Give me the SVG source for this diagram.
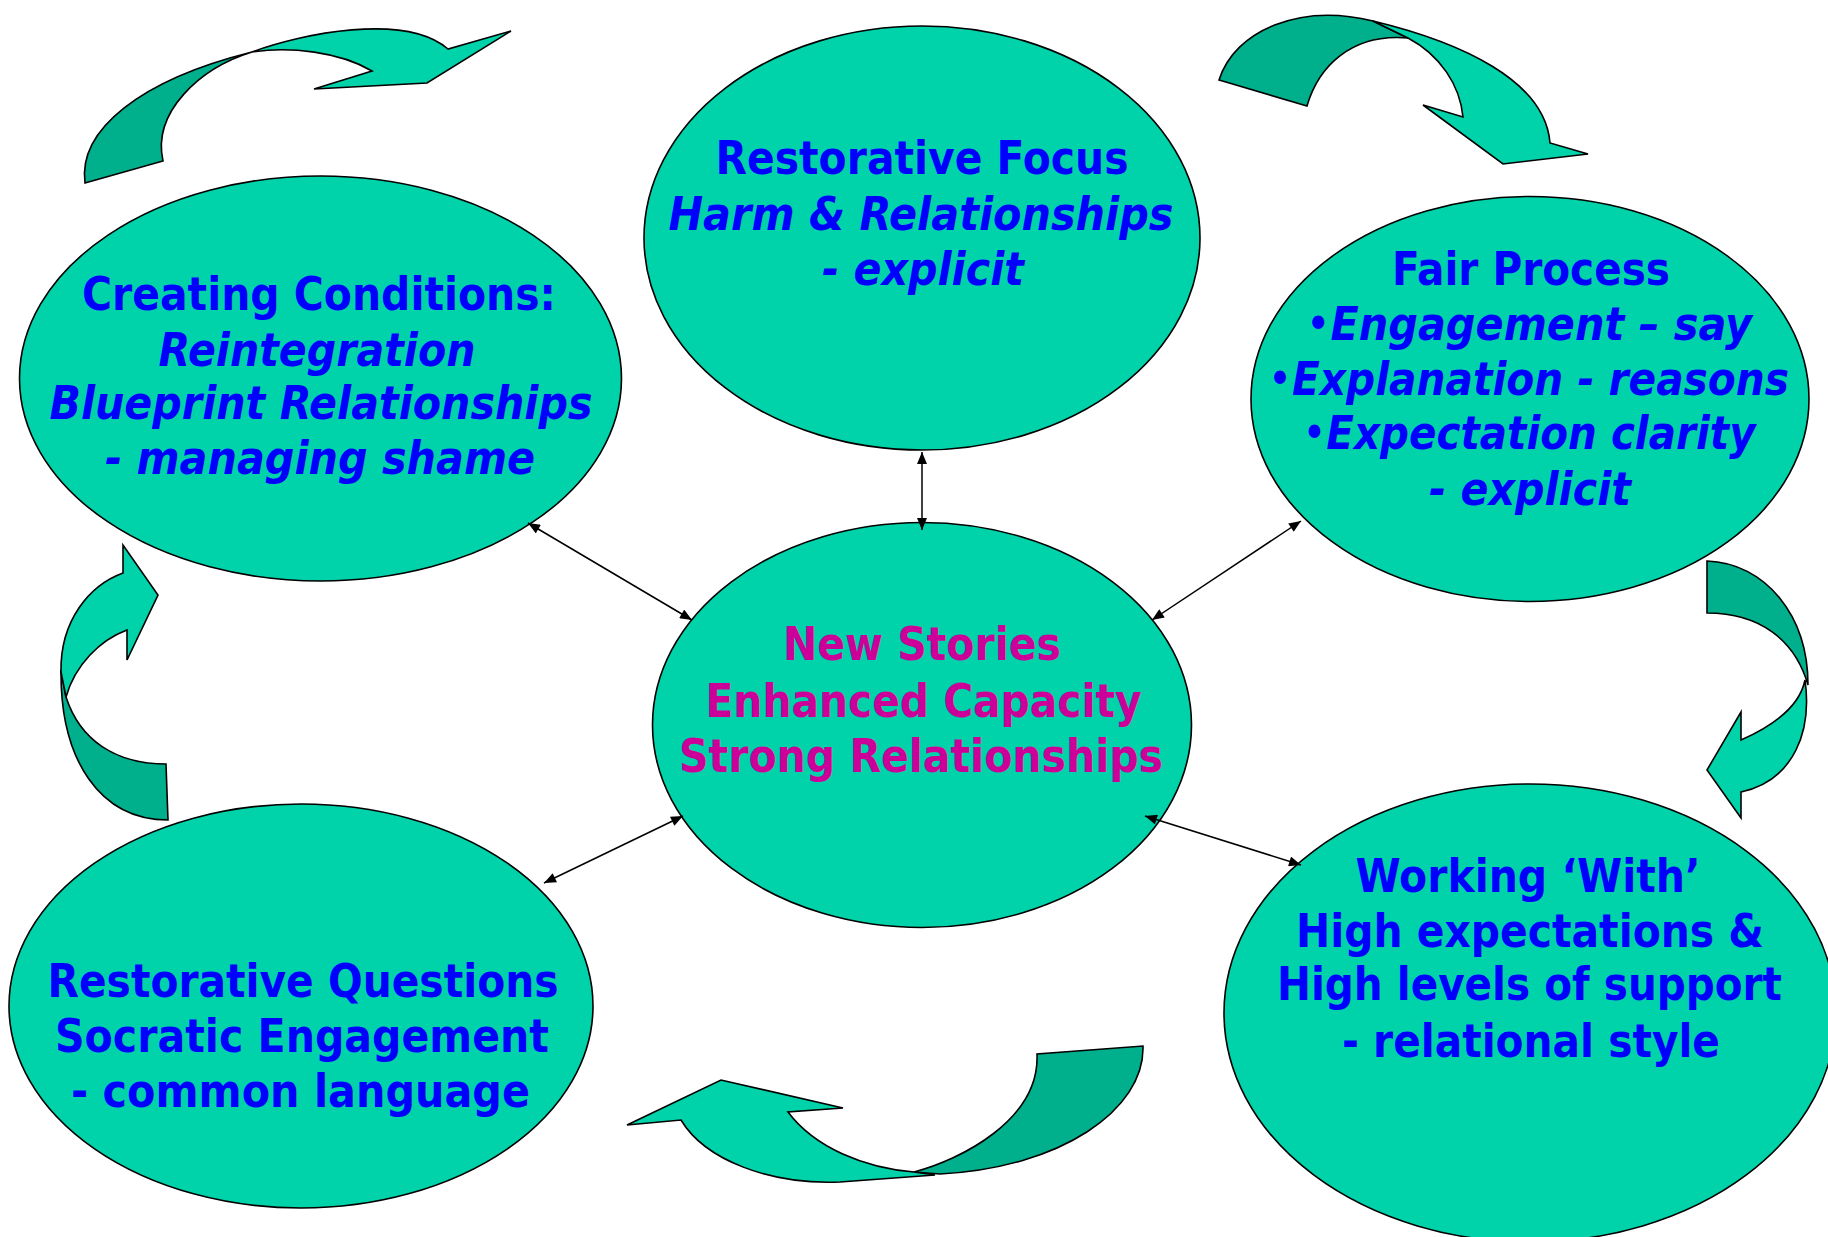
<svg xmlns="http://www.w3.org/2000/svg" width="1828" height="1237" viewBox="0 0 1828 1237">
<defs>
<style>
.node{fill:#00D2AA;stroke:#000;stroke-width:1.6}
.lt{fill:#00D2AA;stroke:#000;stroke-width:1.6;stroke-linejoin:miter}
.dk{fill:#00AF8C;stroke:#000;stroke-width:1.6}
.t{font-family:"DejaVu Sans Condensed","DejaVu Sans",sans-serif;font-stretch:condensed;font-weight:bold;font-size:47px;text-anchor:middle;fill:#0000FF}
.i{font-style:italic}
.m{fill:#CC0099}
.c{stroke:#000;stroke-width:1.5;fill:none;marker-start:url(#ah);marker-end:url(#ah)}
</style>
<marker id="ah" viewBox="0 0 12 10" refX="12" refY="5" markerWidth="13" markerHeight="10" markerUnits="userSpaceOnUse" orient="auto-start-reverse">
<path d="M0,0 L12,5 L0,10 Z" fill="#000"/>
</marker>
</defs>
<rect width="1828" height="1237" fill="#fff"/>

<g id="cycle-arrows">
<g id="arrow-top-left">
<path class="dk" d="M85,183 C78,130 140,80 252,52 C200,68 152,112 163,161 Z"/>
<path class="lt" d="M252,52 C300,34 405,12 448,49 L511,31 L427,83 L314,89 L372,71 C340,52 290,46 252,52 Z"/>
</g>
<g id="arrow-top-right">
<path class="dk" d="M1219,80 C1235,30 1300,3 1373,21 L1408,38 C1350,33 1318,68 1307,106 Z"/>
<path class="lt" d="M1373,21 C1460,42 1545,80 1550,143 L1588,154 L1503,164 L1423,105 L1463,117 C1460,85 1440,55 1408,38 Z"/>
</g>
<g id="arrow-right">
<path class="dk" d="M1707,561 C1765,563 1808,615 1808,685 C1795,640 1760,613 1707,613 Z"/>
<path class="lt" d="M1805,680 C1812,730 1795,780 1741,792 L1741,818 L1707,770 L1741,712 L1741,740 C1775,725 1800,705 1805,680 Z"/>
</g>
<g id="arrow-bottom">
<path class="dk" d="M914,1172 C960,1160 1040,1120 1037,1054 L1143,1046 C1145,1110 1060,1168 940,1174 Z"/>
<path class="lt" d="M627,1125 L721,1080 L843,1108 L788,1112 C815,1148 865,1168 914,1172 L935,1175 L840,1182 C770,1185 705,1160 681,1120 Z"/>
</g>
<g id="arrow-left">
<path class="dk" d="M61,670 C60,760 100,820 168,820 L166,764 C115,764 80,740 66,697 Z"/>
<path class="lt" d="M61,672 C60,620 90,585 123,573 L123,545 L158,595 L127,660 L127,630 C100,640 75,665 66,697 Z"/>
</g>
</g>

<g id="node-restorative-focus">
<ellipse class="node" cx="922" cy="238" rx="278" ry="212"/>
<text class="t" x="922" y="174" textLength="413" lengthAdjust="spacingAndGlyphs">Restorative Focus</text>
<text class="t i" x="921" y="230" textLength="505" lengthAdjust="spacingAndGlyphs">Harm &amp; Relationships</text>
<text class="t i" x="923" y="285" textLength="202" lengthAdjust="spacingAndGlyphs">- explicit</text>
</g>

<g id="node-creating-conditions">
<ellipse class="node" cx="320.5" cy="378.5" rx="301" ry="202.5"/>
<text class="t" x="319" y="310" textLength="474" lengthAdjust="spacingAndGlyphs">Creating Conditions:</text>
<text class="t i" x="317" y="366" textLength="317" lengthAdjust="spacingAndGlyphs">Reintegration</text>
<text class="t i" x="321" y="419" textLength="543" lengthAdjust="spacingAndGlyphs">Blueprint Relationships</text>
<text class="t i" x="320" y="474" textLength="430" lengthAdjust="spacingAndGlyphs">- managing shame</text>
</g>

<g id="node-fair-process">
<ellipse class="node" cx="1530" cy="399" rx="279" ry="202.5"/>
<text class="t" x="1531" y="285" textLength="278" lengthAdjust="spacingAndGlyphs">Fair Process</text>
<text class="t" x="1529" y="340" textLength="446" lengthAdjust="spacingAndGlyphs"><tspan font-weight="normal">•</tspan><tspan class="i">Engagement – say</tspan></text>
<text class="t" x="1528.5" y="395" textLength="521" lengthAdjust="spacingAndGlyphs"><tspan font-weight="normal">•</tspan><tspan class="i">Explanation - reasons</tspan></text>
<text class="t" x="1529" y="449" textLength="453" lengthAdjust="spacingAndGlyphs"><tspan font-weight="normal">•</tspan><tspan class="i">Expectation clarity</tspan></text>
<text class="t i" x="1530" y="505" textLength="202" lengthAdjust="spacingAndGlyphs">- explicit</text>
</g>

<g id="node-new-stories">
<ellipse class="node" cx="922" cy="725" rx="269.5" ry="202.5"/>
<text class="t m" x="922" y="660" textLength="278" lengthAdjust="spacingAndGlyphs">New Stories</text>
<text class="t m" x="923.5" y="717" textLength="436" lengthAdjust="spacingAndGlyphs">Enhanced Capacity</text>
<text class="t m" x="921" y="772" textLength="484" lengthAdjust="spacingAndGlyphs">Strong Relationships</text>
</g>

<g id="node-restorative-questions">
<ellipse class="node" cx="301" cy="1006" rx="292" ry="202"/>
<text class="t" x="303" y="997" textLength="511" lengthAdjust="spacingAndGlyphs">Restorative Questions</text>
<text class="t" x="302" y="1052" textLength="494" lengthAdjust="spacingAndGlyphs">Socratic Engagement</text>
<text class="t" x="300.5" y="1107" textLength="459" lengthAdjust="spacingAndGlyphs">- common language</text>
</g>

<g id="node-working-with">
<ellipse class="node" cx="1530" cy="1013" rx="306" ry="229"/>
<text class="t" x="1528" y="892" textLength="345" lengthAdjust="spacingAndGlyphs">Working ‘With’</text>
<text class="t" x="1530" y="947" textLength="468" lengthAdjust="spacingAndGlyphs">High expectations &amp;</text>
<text class="t" x="1529.5" y="1000" textLength="505" lengthAdjust="spacingAndGlyphs">High levels of support</text>
<text class="t" x="1531" y="1057" textLength="378" lengthAdjust="spacingAndGlyphs">- relational style</text>
</g>

<g id="connectors">
<line class="c" x1="922" y1="452" x2="922" y2="530"/>
<line class="c" x1="528" y1="523" x2="692" y2="620"/>
<line class="c" x1="1152" y1="620" x2="1301" y2="521"/>
<line class="c" x1="544" y1="883" x2="683" y2="816"/>
<line class="c" x1="1145" y1="816" x2="1301" y2="865"/>
</g>
</svg>
